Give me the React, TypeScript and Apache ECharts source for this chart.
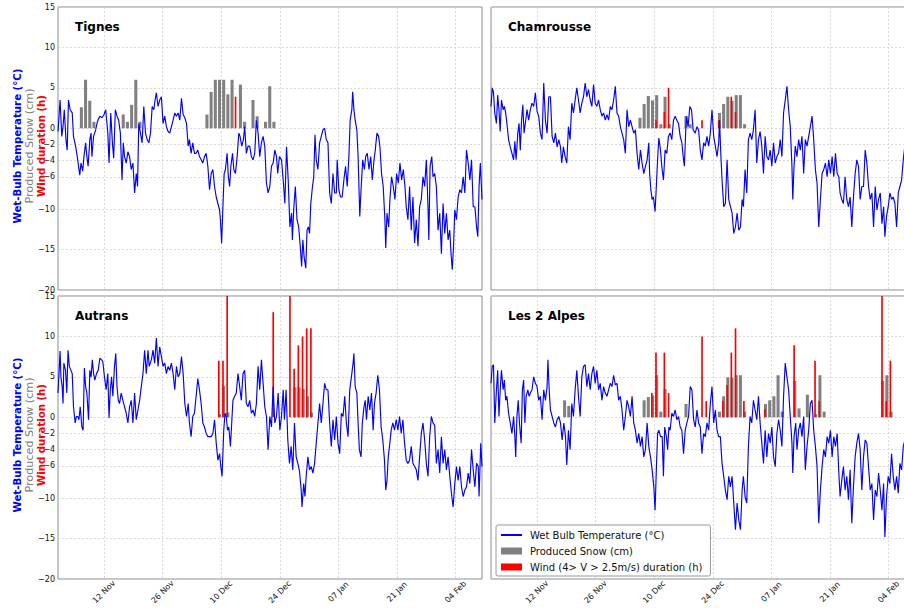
import { useEffect, useRef } from 'react';
import * as echarts from 'echarts';

// x values are days since 1 Nov (00:00)
const tickDays = [11, 25, 39, 53, 67, 81, 95];
const tickLabels = ['12 Nov', '26 Nov', '10 Dec', '24 Dec', '07 Jan', '21 Jan', '04 Feb'];
const yTicks = [-20, -15, -10, -6, -4, -2, 0, 5, 10, 15];

const stationNames = ['Tignes', 'Chamrousse', 'Autrans', 'Les 2 Alpes'];
const tempName = 'Wet Bulb Temperature (°C)';
const snowName = 'Produced Snow (cm)';
const windName = 'Wind (4> V > 2.5m/s) duration (h)';

const tignesTemp = [[0,-0.4],[0.5,3.5],[0.9,-1.0],[1.2,0.2],[1.5,2.3],[1.9,-1.4],[2.2,-2.7],[2.5,3.5],[2.9,2.3],[3.4,1.9],[3.7,-1.0],[4.2,-2.2],[4.6,-3.5],[5.2,-5.8],[5.5,-4.3],[5.9,-5.3],[6.2,-3.5],[6.6,-1.8],[6.9,-3.5],[7.2,-4.7],[7.6,-1.4],[7.9,-0.6],[8.1,-3.5],[8.5,-1.0],[9.0,-0.2],[9.4,0.8],[10.0,1.5],[10.5,1.3],[11.0,1.7],[11.4,2.3],[11.9,-0.6],[12.2,-4.3],[12.6,1.9],[13.0,-1.8],[13.3,-3.7],[13.7,2.3],[14.1,1.5],[14.5,1.0],[14.9,-0.6],[15.3,-6.4],[15.6,-1.8],[15.9,-3.5],[16.3,-4.3],[16.7,-2.9],[17.1,-3.5],[17.5,-5.1],[17.9,-4.3],[18.3,-8.0],[18.7,-5.6],[19.0,-7.2],[19.3,0.6],[19.7,-0.6],[20.1,-1.8],[20.5,2.7],[20.9,-0.6],[21.3,-1.4],[21.7,-1.8],[22.1,-0.6],[22.5,2.7],[22.9,2.3],[23.2,3.5],[23.5,4.4],[23.9,2.7],[24.3,3.5],[24.7,3.9],[25.1,0.6],[25.5,1.5],[25.9,0.2],[26.3,-0.4],[26.7,-0.6],[27.1,0.2],[27.5,1.0],[27.9,1.9],[28.3,1.5],[28.7,1.9],[29.1,1.0],[29.5,3.7],[29.9,1.7],[30.3,1.3],[30.7,0.6],[31.1,-2.2],[31.4,-1.4],[31.8,-3.1],[32.2,-1.8],[32.6,-3.1],[33.0,-3.1],[33.4,-2.7],[33.8,-3.5],[34.2,-3.9],[34.6,-4.3],[35.0,-3.5],[35.4,-3.1],[35.8,-4.7],[36.2,-7.6],[36.6,-5.6],[37.0,-5.1],[37.4,-7.2],[37.8,-8.5],[38.2,-9.3],[38.6,-10.1],[38.8,-11.3],[39.1,-14.2],[39.4,-9.7],[39.7,-5.6],[40.0,-5.1],[40.4,-3.1],[40.7,-6.0],[41.0,-7.2],[41.3,-4.7],[41.7,-3.1],[42.0,-5.1],[42.4,-5.6],[42.8,-3.5],[43.2,-0.6],[43.5,-1.0],[43.9,-2.2],[44.3,-1.4],[44.6,0.2],[45.0,-3.1],[45.4,-2.2],[45.8,-2.2],[46.2,-3.5],[46.6,-3.9],[47.0,-3.1],[47.4,1.0],[47.8,-0.6],[48.2,-3.5],[48.6,-1.8],[49.0,-1.0],[49.4,-2.2],[49.8,-6.8],[50.2,-8.0],[50.6,-7.2],[51.0,-4.7],[51.4,-4.3],[51.8,-2.7],[52.2,-3.5],[52.5,-5.6],[52.9,-3.5],[53.4,-3.9],[53.8,-6.4],[54.2,-9.3],[54.6,-2.3],[55.0,-6.4],[55.4,-12.2],[55.8,-10.5],[56.0,-13.8],[56.3,-10.1],[56.7,-7.2],[57.1,-11.3],[57.5,-12.2],[57.9,-14.7],[58.2,-17.1],[58.5,-13.8],[58.8,-15.9],[59.2,-17.3],[59.5,-12.6],[59.8,-12.2],[60.1,-13.0],[60.4,-9.3],[60.8,-7.2],[61.1,-6.0],[61.4,-0.8],[61.7,-3.9],[62.1,-5.1],[62.5,-1.8],[62.9,-1.0],[63.3,-0.2],[63.7,0],[64.1,-1.4],[64.5,-1.8],[64.9,-8.0],[65.3,-9.3],[65.7,-5.6],[66.1,-8.0],[66.5,-8.0],[66.7,-3.9],[67.1,-7.6],[67.5,-8.5],[67.9,-8.5],[68.3,-6.4],[68.7,-4.7],[69.1,-7.2],[69.5,-3.5],[69.8,1.0],[70.2,2.3],[70.4,4.5],[70.7,2.3],[71.0,1.0],[71.4,-0.2],[71.7,-3.5],[72.1,-10.9],[72.4,-7.6],[72.8,-3.9],[73.2,-5.1],[73.5,-3.5],[73.9,-3.1],[74.3,-5.1],[74.7,-3.5],[75.1,-6.4],[75.5,-3.9],[75.8,-2.7],[76.2,-0.6],[76.6,-1.0],[76.9,-2.2],[77.3,-5.6],[77.7,-7.2],[78.1,-11.3],[78.3,-14.8],[78.6,-10.5],[79.0,-12.2],[79.3,-8.8],[79.7,-6.0],[80.1,-7.2],[80.5,-8.8],[80.9,-5.6],[81.3,-6.8],[81.7,-4.3],[82.1,-6.4],[82.5,-5.1],[82.9,-7.2],[83.2,-9.7],[83.6,-11.3],[84.0,-7.2],[84.4,-12.6],[84.8,-8.5],[85.2,-14.2],[85.6,-11.3],[86.0,-14.6],[86.4,-9.7],[86.8,-8.8],[87.2,-6.0],[87.6,-7.2],[88.0,-3.9],[88.4,-9.7],[88.6,-13.8],[88.9,-4.7],[89.3,-3.5],[89.6,-6.0],[90.0,-5.6],[90.4,-7.2],[90.8,-12.6],[91.2,-10.5],[91.6,-15.5],[92.0,-9.3],[92.4,-13.0],[92.8,-10.5],[93.2,-13.8],[93.6,-12.6],[93.9,-15.5],[94.2,-17.5],[94.5,-14.6],[94.8,-10.1],[95.2,-11.3],[95.6,-8.5],[96.0,-7.6],[96.4,-8.0],[96.8,-6.0],[97.2,-8.0],[97.6,-2.7],[98.0,-4.3],[98.4,-6.4],[98.8,-3.9],[99.2,-9.7],[99.6,-9.7],[100.0,-12.2],[100.3,-13.4],[100.6,-7.2],[100.9,-4.3],[101.3,-8.8]];
const tignesSnow = [[5,2.6],[6,6.0],[7,3.4],[8,0.8],[15,1.7],[16,0.8],[17,2.9],[18,6.0],[19,0.8],[35,1.7],[36,4.5],[37,6.0],[38,6.0],[39,6.0],[40,4.2],[41,6.0],[43,5.4],[44,0.8],[46,3.5],[47,1.5],[49,0.8],[50,5.2],[51,0.8]];
const tignesWind = [[42,3.9]];

const chamrousseTemp = [[0,2.7],[0.3,5.0],[0.6,4.4],[0.9,1.9],[1.3,0.6],[1.6,4.1],[1.9,2.3],[2.2,-0.4],[2.5,3.5],[2.9,2.3],[3.2,2.7],[3.5,1.9],[3.8,0.6],[4.2,-1.4],[4.6,-2.3],[5.0,-3.1],[5.4,-3.9],[5.7,-1.6],[6.0,-3.9],[6.4,-0.6],[6.7,0.6],[7.0,-2.7],[7.3,1.0],[7.6,2.9],[7.9,-0.6],[8.3,1.0],[8.6,2.3],[9.0,1.0],[9.4,2.3],[9.8,3.1],[10.2,2.7],[10.6,4.4],[11.0,2.1],[11.4,1.5],[11.8,-0.6],[12.2,-1.4],[12.6,5.6],[13.0,1.0],[13.4,-0.6],[13.8,3.9],[14.2,3.9],[14.6,-1.0],[15.0,-1.8],[15.4,-0.6],[15.8,-2.3],[16.2,-1.4],[16.6,-2.3],[16.9,-4.3],[17.3,-2.3],[17.7,-3.5],[18.1,-4.3],[18.5,0.2],[18.9,-1.4],[19.3,3.1],[19.7,1.9],[20.1,3.5],[20.5,5.0],[20.9,3.5],[21.3,1.9],[21.7,3.1],[22.1,3.9],[22.5,5.6],[22.9,3.9],[23.3,4.8],[23.7,3.5],[24.1,2.7],[24.5,5.4],[24.9,3.1],[25.3,2.7],[25.7,3.5],[26.1,2.3],[26.5,1.5],[26.9,1.9],[27.3,1.0],[27.7,1.7],[28.1,1.0],[28.5,2.7],[28.9,2.3],[29.3,3.5],[29.7,5.2],[30.1,1.9],[30.5,1.5],[30.9,0.2],[31.3,-0.6],[31.7,-1.4],[32.1,-3.1],[32.5,2.3],[32.9,0.2],[33.3,1.0],[33.7,0.2],[34.1,-0.6],[34.5,-0.2],[34.9,-3.1],[35.3,-5.1],[35.7,-2.7],[36.1,-4.3],[36.5,-5.6],[36.9,-4.7],[37.3,-3.9],[37.7,-1.8],[37.9,-5.6],[38.2,-7.6],[38.5,-8.8],[38.8,-8.5],[39.2,-10.3],[39.5,-7.2],[39.8,-3.9],[40.1,-1.2],[40.5,-2.7],[40.8,-4.7],[41.2,-6.4],[41.6,-2.7],[42.0,-3.1],[42.4,-1.0],[42.8,-0.6],[43.2,-1.4],[43.6,1.0],[44.0,1.5],[44.4,1.0],[44.8,0.6],[45.2,-1.0],[45.6,-1.8],[46.0,-3.9],[46.2,-4.7],[46.5,-0.6],[46.7,1.5],[47.1,0.2],[47.5,2.7],[47.9,2.3],[48.3,-0.2],[48.8,-0.6],[49.2,0.2],[49.6,-0.2],[50.0,-2.7],[50.4,-3.9],[50.8,-1.8],[51.2,-2.2],[51.6,-1.0],[52.0,-2.2],[52.4,-0.6],[52.8,2.3],[53.2,-1.0],[53.6,-2.2],[54.0,-3.5],[54.4,-1.8],[54.6,1.0],[54.9,-3.1],[55.2,-6.4],[55.6,-9.7],[56.0,-9.3],[56.4,-3.9],[56.8,-8.8],[57.2,-9.7],[57.6,-10.5],[58.0,-13.0],[58.4,-12.2],[58.8,-10.5],[59.2,-12.6],[59.6,-12.2],[60.0,-8.8],[60.3,-9.7],[60.7,-5.1],[61.1,-8.0],[61.5,-1.4],[61.9,-0.6],[62.3,-1.4],[62.7,-0.2],[63.1,2.3],[63.5,-4.3],[63.9,-1.4],[64.3,-0.4],[64.7,-2.2],[65.1,-5.6],[65.5,-1.0],[65.9,-3.5],[66.3,-3.9],[66.7,-2.7],[67.1,-4.7],[67.5,-1.8],[67.9,-4.3],[68.3,-3.5],[68.7,-3.1],[69.1,-1.4],[69.5,-3.5],[69.9,1.9],[70.3,3.5],[70.7,5.2],[71.1,2.3],[71.5,0.2],[71.9,-4.7],[72.1,-8.8],[72.4,-4.7],[72.7,-2.2],[73.1,-3.5],[73.5,-1.4],[73.9,-2.7],[74.3,-1.0],[74.7,-5.6],[75.1,-1.4],[75.5,-2.2],[75.9,-1.0],[76.3,0.2],[76.7,1.5],[77.1,-1.4],[77.5,-5.1],[77.9,-6.8],[78.3,-12.2],[78.7,-8.8],[79.1,-5.6],[79.5,-5.1],[79.9,-4.3],[80.3,-6.0],[80.7,-3.9],[81.1,-5.6],[81.5,-3.5],[81.9,-6.0],[82.3,-3.1],[82.7,-5.6],[83.1,-6.0],[83.4,-8.0],[83.8,-8.8],[84.2,-9.3],[84.6,-6.0],[85.0,-8.8],[85.4,-9.7],[85.8,-8.5],[86.2,-12.2],[86.6,-8.5],[87.0,-5.6],[87.4,-3.9],[87.8,-4.7],[88.2,-8.8],[88.6,-7.2],[89.0,-7.2],[89.4,-2.7],[89.8,-4.3],[90.2,-7.2],[90.6,-8.8],[91.0,-8.0],[91.4,-12.2],[91.8,-7.2],[92.2,-10.1],[92.6,-8.8],[93.0,-8.0],[93.4,-11.8],[93.8,-9.7],[94.1,-13.4],[94.5,-10.9],[94.9,-9.7],[95.3,-8.0],[95.7,-8.8],[96.1,-8.5],[96.5,-9.3],[96.9,-12.2],[97.3,-8.0],[97.7,-7.2],[98.1,-6.4],[98.5,-3.9],[98.8,-2.5],[99.3,-4.0],[100.0,-6.0],[100.6,-5.0],[101.3,-7.0]];
const chamrousseSnow = [[35,1.3],[36,3.0],[37,4.0],[38,3.45],[39,4.1],[40,0.5],[41,3.9],[42,0.5],[46,1.5],[47,0.5],[54,1.9],[55,3.0],[56,3.9],[57,3.4],[58,4.1],[59,4.1],[60,0.5]];
const chamrousseWind = [[39,1.0],[41,2.0],[42,5.0],[50,1.0],[54,1.0],[57,3.9],[58,2.0]];

const autransTemp = [[0,3.0],[0.2,5.0],[0.5,8.2],[0.7,5.0],[1.0,3.8],[1.2,1.7],[1.4,6.7],[1.8,5.8],[2.1,3.0],[2.4,8.3],[2.7,6.3],[3.1,5.8],[3.4,5.4],[3.7,1.3],[4.1,-0.7],[4.4,0.1],[4.7,0.1],[5.0,-0.3],[5.3,1.3],[5.7,-1.2],[6.0,-1.6],[6.3,6.1],[6.6,3.8],[6.9,3.0],[7.3,-0.3],[7.6,5.8],[7.9,5.0],[8.2,7.1],[8.5,5.4],[8.8,4.6],[9.2,5.4],[9.6,5.8],[10.0,7.3],[10.4,7.1],[10.7,6.9],[11.1,5.0],[11.5,3.4],[11.9,5.4],[12.2,-0.1],[12.5,3.4],[12.8,5.0],[13.1,2.6],[13.5,6.3],[13.8,7.9],[14.1,3.8],[14.4,2.1],[14.7,1.7],[15.1,3.0],[15.5,2.1],[15.9,1.3],[16.3,0.5],[16.7,-0.7],[17.1,1.3],[17.5,2.1],[17.9,-0.7],[18.3,3.0],[18.7,-0.3],[19.1,0.9],[19.5,2.1],[19.9,3.8],[20.3,5.4],[20.7,8.3],[21.1,5.4],[21.5,8.3],[21.8,6.3],[22.3,7.1],[22.7,8.3],[23.1,6.7],[23.5,9.8],[23.9,6.3],[24.3,8.7],[24.7,7.5],[25.1,6.3],[25.5,6.7],[25.9,5.4],[26.3,6.3],[26.7,5.8],[27.1,6.7],[27.5,5.4],[27.9,3.4],[28.3,6.3],[28.7,5.0],[29.1,5.4],[29.5,7.5],[29.9,5.4],[30.3,1.7],[30.7,0.1],[31.1,1.7],[31.4,-0.7],[31.8,-2.4],[32.2,0.1],[32.6,0.5],[33.0,2.6],[33.4,4.8],[33.8,3.4],[34.2,1.7],[34.6,-0.7],[35.0,-1.2],[35.4,-2.0],[35.8,-2.4],[36.2,-2.4],[36.6,-2.4],[37.0,-2.0],[37.4,-0.3],[37.8,-3.2],[38.2,-5.3],[38.6,-4.5],[38.9,-6.1],[39.2,-7.3],[39.6,-1.6],[39.9,0.5],[40.2,0.1],[40.5,-1.6],[40.8,-1.2],[41.2,-3.6],[41.5,-0.7],[41.8,2.1],[42.2,2.6],[42.6,3.0],[43.0,5.4],[43.4,3.8],[43.8,2.1],[44.2,5.4],[44.6,5.8],[45.0,1.7],[45.4,1.3],[45.8,2.1],[46.2,0.5],[46.6,0.9],[47.0,0.1],[47.4,1.7],[47.8,6.3],[48.2,3.4],[48.6,7.1],[49.0,4.2],[49.4,1.3],[49.8,0.1],[50.2,-4.0],[50.6,0.1],[51.0,-1.2],[51.4,3.8],[51.8,-0.7],[52.2,0.1],[52.6,3.0],[53.0,-1.6],[53.4,0.1],[53.8,3.4],[54.1,-0.3],[54.5,3.4],[54.9,-2.8],[55.3,-5.7],[55.7,-3.6],[56.1,-6.5],[56.5,-0.7],[56.9,-4.9],[57.3,-5.7],[57.7,-6.7],[58.1,-9.0],[58.3,-11.1],[58.7,-8.2],[59.0,-9.8],[59.3,-7.3],[59.7,-4.9],[60.1,-6.5],[60.5,-6.1],[60.9,-6.9],[61.3,-5.7],[61.7,-3.2],[62.1,-0.7],[62.5,1.7],[62.9,-0.7],[63.3,1.7],[63.7,4.2],[64.1,3.4],[64.5,3.4],[64.9,-0.7],[65.3,-3.6],[65.7,-0.3],[66.1,-2.8],[66.5,0.1],[66.9,-3.2],[67.3,-4.5],[67.7,0.5],[68.1,0.1],[68.5,2.6],[68.9,-0.7],[69.3,-2.4],[69.7,3.4],[70.1,5.0],[70.5,6.7],[70.7,7.9],[71.0,3.8],[71.4,3.0],[71.7,-0.7],[72.0,-4.0],[72.4,-4.9],[72.7,-0.7],[73.1,1.3],[73.4,2.1],[73.7,-0.3],[74.1,2.6],[74.5,0.9],[74.9,3.0],[75.3,-1.6],[75.6,1.7],[76.0,3.0],[76.4,5.2],[76.8,3.4],[77.2,-1.2],[77.6,-2.8],[78.0,-5.3],[78.3,-9.0],[78.6,-7.8],[78.9,-4.9],[79.2,-3.6],[79.6,-1.6],[80.0,-0.7],[80.4,-1.6],[80.8,-0.3],[81.2,-1.6],[81.6,0.1],[82.0,-2.0],[82.4,-0.3],[82.8,-3.2],[83.2,-5.3],[83.6,-5.7],[84.0,-5.3],[84.4,-3.6],[84.8,-5.7],[85.2,-6.1],[85.6,-6.5],[86.0,-7.8],[86.4,-4.9],[86.8,-2.0],[87.2,-0.7],[87.6,-2.8],[88.0,-5.7],[88.4,-7.3],[88.8,-2.4],[89.2,0.1],[89.6,-0.7],[90.0,-1.0],[90.4,-5.7],[90.8,-4.0],[91.2,-6.9],[91.6,-2.4],[92.0,-5.7],[92.4,-4.0],[92.8,-6.5],[93.2,-4.9],[93.6,-7.3],[94.0,-9.4],[94.4,-11.1],[94.8,-8.2],[95.2,-6.1],[95.6,-7.8],[96.0,-6.1],[96.4,-8.6],[96.8,-9.8],[97.2,-9.0],[97.6,-8.6],[98.0,-6.9],[98.4,-8.2],[98.8,-4.0],[99.2,-6.5],[99.6,-8.6],[100.0,-5.7],[100.4,-6.1],[100.6,-9.8],[101.0,-3.2],[101.3,-6.1]];
const autransSnow = [[38,0.4],[39,3.9],[40,0.6],[56,3.7],[57,3.7],[58,3.5],[59,2.6],[60,0.6]];
const autransWind = [[38,7.0],[39,7.0],[40,18],[51,13.0],[55,17],[56,6.0],[57,8.9],[58,10.0],[59,11.0],[60,11.0]];

const alpesTemp = [[0,4.2],[0.3,6.3],[0.6,6.5],[0.9,-0.7],[1.3,3.4],[1.6,5.8],[1.9,0.1],[2.2,3.4],[2.5,5.8],[2.9,3.4],[3.2,4.6],[3.5,2.1],[3.8,2.6],[4.2,0.5],[4.6,-0.7],[5.0,-2.0],[5.4,0.1],[5.7,-2.4],[5.9,-4.9],[6.2,0.1],[6.5,2.1],[6.8,-0.7],[7.2,-3.2],[7.5,3.4],[7.8,4.6],[8.1,-0.7],[8.4,2.6],[8.8,3.4],[9.1,2.6],[9.4,3.0],[9.8,3.4],[10.2,5.0],[10.6,4.2],[11.0,3.8],[11.4,2.1],[11.8,2.6],[12.2,-0.3],[12.6,3.4],[13.0,2.1],[13.4,3.8],[13.6,7.1],[13.9,3.4],[14.2,0.9],[14.6,0.1],[15.0,-0.7],[15.4,-1.2],[15.8,-0.3],[16.2,0.1],[16.6,-0.7],[17.0,-2.8],[17.4,-0.7],[17.8,-2.4],[18.1,-5.9],[18.5,-1.6],[18.9,-4.0],[19.3,1.7],[19.7,0.1],[20.1,3.4],[20.5,5.8],[20.9,2.6],[21.3,0.1],[21.7,5.0],[22.1,6.3],[22.5,6.5],[22.9,3.8],[23.3,5.4],[23.7,3.4],[24.1,5.4],[24.5,6.3],[24.9,4.2],[25.3,5.8],[25.7,3.4],[26.1,4.2],[26.5,2.1],[26.9,3.8],[27.3,3.0],[27.7,2.6],[28.1,3.4],[28.5,4.2],[28.9,3.8],[29.3,5.2],[29.7,4.0],[30.1,4.2],[30.5,2.1],[30.9,2.6],[31.3,0.9],[31.7,-1.6],[32.1,0.1],[32.5,2.1],[32.9,1.3],[33.3,0.1],[33.7,2.6],[34.1,-0.7],[34.5,-1.6],[34.9,-3.2],[35.3,-2.0],[35.7,-3.6],[36.1,-2.4],[36.5,-4.9],[36.9,-4.0],[37.3,-0.7],[37.7,-3.6],[38.1,-4.9],[38.5,-6.5],[38.9,-8.6],[39.2,-11.5],[39.5,-6.5],[39.8,-2.0],[40.1,-1.6],[40.5,-2.4],[40.9,-2.4],[41.2,-7.3],[41.5,-1.2],[41.9,-2.4],[42.2,-4.0],[42.5,-1.2],[42.8,-1.6],[43.2,0.5],[43.6,0.1],[44.0,0.9],[44.4,-0.3],[44.8,0.1],[45.2,-1.2],[45.6,-1.6],[46.0,-4.5],[46.4,-1.6],[46.8,-0.7],[47.2,0.1],[47.6,3.8],[48.0,3.4],[48.4,-0.3],[48.8,-1.2],[49.2,0.9],[49.6,-0.7],[50.0,-1.2],[50.4,-4.5],[50.8,-2.0],[51.2,-2.4],[51.6,-0.7],[52.0,-1.6],[52.4,1.7],[52.8,3.8],[53.2,-0.7],[53.6,0.9],[54.0,-1.6],[54.4,-2.4],[54.8,-2.4],[55.2,-5.7],[55.6,-7.3],[56.0,-9.0],[56.4,-10.2],[56.8,-7.3],[57.2,-8.6],[57.6,-7.3],[58.0,-10.6],[58.4,-13.9],[58.8,-10.6],[59.2,-12.7],[59.6,-13.9],[60.0,-9.0],[60.3,-7.3],[60.7,-9.8],[61.1,-10.6],[61.5,-3.6],[61.9,0.1],[62.3,-0.7],[62.7,2.1],[63.1,0.9],[63.5,-0.3],[63.9,2.6],[64.3,-0.7],[64.7,-3.2],[65.1,-5.7],[65.5,-1.6],[65.9,-4.9],[66.3,-2.0],[66.7,-3.2],[67.1,-1.2],[67.5,-4.9],[67.9,-6.1],[68.3,-2.0],[68.7,-0.3],[69.1,-1.6],[69.5,-3.6],[69.9,2.6],[70.3,6.7],[70.7,5.0],[71.1,3.4],[71.5,0.1],[71.9,-3.2],[72.1,-6.9],[72.4,-2.4],[72.8,-0.7],[73.1,-4.0],[73.5,-1.6],[73.9,-0.7],[74.3,-2.4],[74.7,0.1],[75.1,-6.5],[75.5,-3.6],[75.9,-1.6],[76.3,1.7],[76.7,2.1],[77.1,-1.6],[77.5,-3.6],[77.9,-6.1],[78.3,-13.1],[78.7,-9.0],[79.1,-6.1],[79.5,-4.0],[79.9,-4.9],[80.3,-2.4],[80.7,-3.2],[81.1,-1.6],[81.5,-4.9],[81.9,-2.4],[82.3,-3.6],[82.7,-2.0],[83.1,-6.9],[83.4,-9.8],[83.8,-7.8],[84.2,-6.1],[84.6,-9.0],[85.0,-7.3],[85.4,-10.2],[85.8,-6.5],[86.2,-13.1],[86.6,-8.6],[87.0,-4.9],[87.4,-3.2],[87.8,-2.0],[88.2,-4.0],[88.6,-9.0],[89.0,-4.9],[89.4,-2.8],[89.8,-3.2],[90.2,-6.1],[90.6,-9.0],[91.0,-8.2],[91.4,-12.7],[91.8,-9.0],[92.2,-9.8],[92.6,-6.9],[93.0,-9.0],[93.4,-11.5],[93.8,-8.2],[94.1,-14.8],[94.5,-9.8],[94.9,-7.3],[95.3,-8.2],[95.7,-4.5],[96.1,-7.3],[96.5,-9.0],[96.9,-7.3],[97.3,-9.4],[97.7,-5.7],[98.1,-6.5],[98.5,-3.6],[98.8,-3.0],[99.2,-1.5],[99.8,-4.0],[100.5,-3.0],[101.3,-5.0]];
const alpesSnow = [[17,2.1],[18,1.4],[36,2.1],[37,2.5],[38,2.7],[39,5.2],[40,0.7],[41,3.5],[46,1.65],[54,0.7],[55,2.6],[56,4.95],[57,4.9],[58,5.2],[59,5.2],[60,0.7],[65,1.65],[66,2.1],[67,2.6],[68,5.2],[69,0.7],[72,4.5],[73,1.1],[75,2.8],[77,0.4],[78,5.2],[79,0.7],[93,4.5],[94,5.2],[95,0.7]];
const alpesWind = [[38,3.0],[39,8.0],[41,8.0],[42,3.0],[50,10.0],[51,2.0],[55,2.0],[56,4.0],[57,8.0],[58,11.0],[60,2.0],[65,1.0],[72,8.9],[77,7.0],[78,2.0],[93,18],[94,2.0],[95,7.0]];

const panelTemps = [tignesTemp, chamrousseTemp, autransTemp, alpesTemp];
const panelSnow = [tignesSnow, chamrousseSnow, autransSnow, alpesSnow];
const panelWind = [tignesWind, chamrousseWind, autransWind, alpesWind];

const FONT = '"DejaVu Sans", Verdana, sans-serif';
const BLUE = '#0000ff';
const GRAY = '#808080';
const RED = '#ff0000';

// chart canvas is wider than the visible page: the right-hand panels run past the picture's edge
const CHART_W = 924;
const CHART_H = 610;

const gridBoxes = [
  { left: 58, top: 7, width: 424, height: 283 },
  { left: 491, top: 7, width: 424, height: 283 },
  { left: 58, top: 296, width: 424, height: 283 },
  { left: 491, top: 296, width: 424, height: 283 },
];

function barRenderer(x0: number, x1: number, color: string) {
  return (params: any, api: any) => {
    const d = api.value(0);
    const v = api.value(1);
    const p0 = api.coord([d + x0, v]);
    const p1 = api.coord([d + x1, 0]);
    return {
      type: 'rect',
      shape: { x: p0[0], y: p0[1], width: p1[0] - p0[0], height: p1[1] - p0[1] },
      style: { fill: color },
    };
  };
}

function fmtY(v: number) {
  return v < 0 ? '\u2212' + Math.abs(v) : String(v);
}

export default function App() {
  const ref = useRef<HTMLDivElement>(null);
  useEffect(() => {
    if (!ref.current) return;
    const chart = echarts.init(ref.current, null, { renderer: 'svg', width: CHART_W, height: CHART_H });
    const grids = gridBoxes.map((g) => ({
      ...g,
      show: true,
      borderColor: '#8c8c8c',
      borderWidth: 1,
      backgroundColor: '#ffffff',
      containLabel: false,
    }));
    const xAxes = gridBoxes.map((_, i) => ({
      type: 'value',
      gridIndex: i,
      min: 0,
      max: 101.3,
      axisLine: { show: false },
      axisTick: { show: false, customValues: tickDays },
      splitLine: { show: true, lineStyle: { color: '#cfcfcf', type: [2, 2], width: 0.8 } },
      axisLabel: {
        show: i >= 2,
        customValues: tickDays,
        rotate: 45,
        align: 'center',
        verticalAlign: 'middle',
        margin: 13,
        fontSize: 8,
        color: '#111',
        fontFamily: FONT,
        formatter: (v: number) => {
          const k = tickDays.indexOf(Math.round(v));
          return k >= 0 ? tickLabels[k] : '';
        },
      },
    }));
    const yAxes = gridBoxes.map((_, i) => ({
      type: 'value',
      gridIndex: i,
      min: -20,
      max: 15,
      axisLine: { show: false },
      axisTick: { show: false, customValues: yTicks },
      splitLine: { show: true, lineStyle: { color: '#cfcfcf', type: [2, 2], width: 0.8 } },
      axisLabel: {
        show: i === 0 || i === 2,
        customValues: yTicks,
        margin: 3,
        fontSize: 8,
        color: '#111',
        fontFamily: FONT,
        formatter: fmtY,
      },
    }));
    const series: any[] = [];
    gridBoxes.forEach((_, i) => {
      series.push({
        name: snowName,
        type: 'custom',
        xAxisIndex: i,
        yAxisIndex: i,
        data: panelSnow[i],
        encode: { x: 0, y: 1 },
        renderItem: barRenderer(0.22, 0.95, GRAY),
        itemStyle: { color: GRAY },
        clip: true,
        z: 2,
      });
      series.push({
        name: windName,
        type: 'custom',
        xAxisIndex: i,
        yAxisIndex: i,
        data: panelWind[i],
        encode: { x: 0, y: 1 },
        renderItem: barRenderer(0.22, 0.62, RED),
        itemStyle: { color: RED },
        clip: true,
        z: 3,
      });
      series.push({
        name: tempName,
        type: 'line',
        xAxisIndex: i,
        yAxisIndex: i,
        data: panelTemps[i],
        symbol: 'none',
        showSymbol: false,
        lineStyle: { color: BLUE, width: 1.15 },
        itemStyle: { color: BLUE },
        clip: true,
        z: 4,
      });
    });

    const titleGraphics = stationNames.map((name, i) => ({
      type: 'text',
      left: gridBoxes[i].left + 17,
      top: gridBoxes[i].top + 14,
      z: 10,
      style: { text: name, fill: '#000', fontSize: 12, fontWeight: 'bold', fontFamily: FONT },
    }));
    const yTitle = (cy: number) => [
      { text: 'Wet-Bulb Temperature (°C)', x: 17, color: BLUE, weight: 'bold', size: 10.2 },
      { text: 'Produced Snow (cm)', x: 29.5, color: GRAY, weight: 'normal', size: 11.2 },
      { text: 'Wind duration (h)', x: 41.5, color: RED, weight: 'bold', size: 10.2 },
    ].map((t) => ({
      type: 'text',
      x: t.x,
      y: cy,
      rotation: Math.PI / 2,
      z: 10,
      style: {
        text: t.text,
        fill: t.color,
        fontSize: t.size,
        fontWeight: t.weight,
        fontFamily: FONT,
        textAlign: 'center',
        textVerticalAlign: 'middle',
      },
    }));

    chart.setOption({
      animation: false,
      backgroundColor: '#ffffff',
      grid: grids,
      xAxis: xAxes,
      yAxis: yAxes,
      series,
      legend: {
        left: 496,
        top: 525,
        orient: 'vertical',
        selectedMode: false,
        itemGap: 2,
        itemWidth: 21,
        itemHeight: 7,
        padding: [3, 8, 2, 4],
        borderColor: '#999',
        borderWidth: 1,
        borderRadius: 2,
        backgroundColor: '#ffffff',
        textStyle: { fontSize: 10, color: '#111', fontFamily: FONT, lineHeight: 14, padding: [0, 0, 0, 3] },
        data: [
          {
            name: tempName,
            itemStyle: { color: 'rgba(0,0,0,0)', borderColor: 'rgba(0,0,0,0)', borderWidth: 0, opacity: 0 },
          },
          { name: snowName, icon: 'rect' },
          { name: windName, icon: 'rect' },
        ],
      },
      graphic: [...titleGraphics, ...yTitle(146), ...yTitle(435)],
    });
    return () => chart.dispose();
  }, []);
  return (
    <div style={{ position: 'absolute', left: 0, top: 0, width: 904, height: 610, overflow: 'hidden', background: '#fff' }}>
      <div ref={ref} style={{ width: CHART_W, height: CHART_H }} />
    </div>
  );
}
